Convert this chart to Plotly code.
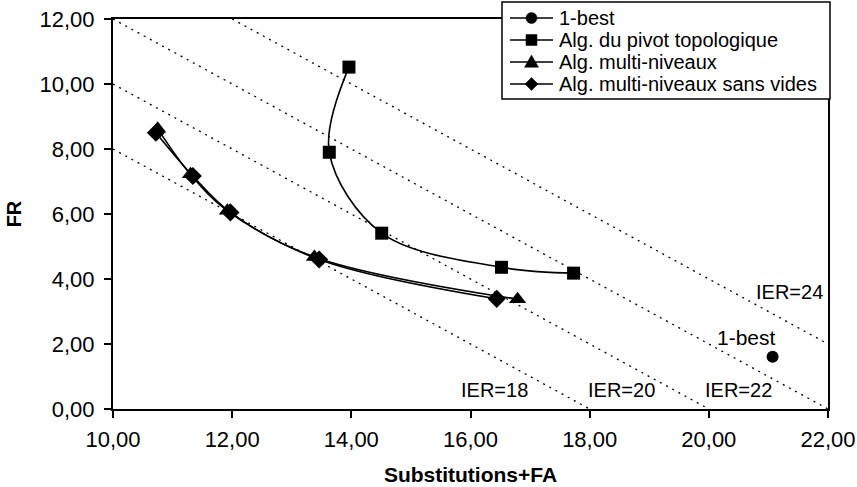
import plotly.graph_objects as go

# ---- data ----
best_x = [21.07]
best_y = [1.61]

pivot_x = [13.96, 13.63, 14.51, 16.52, 17.73]
pivot_y = [10.52, 7.90, 5.41, 4.36, 4.18]

multi_x = [10.75, 11.30, 11.92, 13.38, 16.79]
multi_y = [8.62, 7.22, 6.10, 4.68, 3.38]

multi_sv_x = [10.72, 11.34, 11.97, 13.46, 16.44]
multi_sv_y = [8.50, 7.17, 6.05, 4.60, 3.39]

series_names = ["1-best", "Alg. du pivot topologique", "Alg. multi-niveaux",
                "Alg. multi-niveaux sans vides"]

ier_levels = [18, 20, 22, 24]
ier_label_pos = [(16.41, 0.58), (18.54, 0.58), (20.50, 0.58), (21.36, 3.61)]
best_label_pos = (20.64, 2.20)

x_range = [10, 22]
y_range = [0, 12]

FONT = "Liberation Sans"
W, H = 857, 487
ML, MR, MT, MB = 113, 29, 19, 78
PW, PH = W - ML - MR, H - MT - MB

fig = go.Figure()

# iso-IER dotted lines
for lvl in ier_levels:
    x0 = max(x_range[0], lvl - y_range[1])
    x1 = min(x_range[1], lvl - y_range[0])
    fig.add_trace(go.Scatter(x=[x0, x1], y=[lvl - x0, lvl - x1], mode="lines", showlegend=False,
                             line=dict(color="black", width=1.3, dash="2px,5px"),
                             hoverinfo="skip"))

symbols = ["circle", "square", "triangle-up", "diamond"]
sizes = [12, 13, 15, 14]
for name, xs, ys, sym, sz in zip(series_names, [best_x, pivot_x, multi_x, multi_sv_x],
                                 [best_y, pivot_y, multi_y, multi_sv_y], symbols, sizes):
    fig.add_trace(go.Scatter(
        x=xs, y=ys, name=name, mode="lines+markers", showlegend=False,
        line=dict(color="black", width=1.6, shape="spline", smoothing=1.0),
        marker=dict(symbol=sym, size=sz, color="black"),
    ))

for lvl, (lx, ly) in zip(ier_levels, ier_label_pos):
    fig.add_annotation(x=lx, y=ly, text=f"IER={lvl}", showarrow=False,
                       font=dict(family=FONT, size=20, color="black"))
fig.add_annotation(x=best_label_pos[0], y=best_label_pos[1], text="1-best", showarrow=False,
                   font=dict(family=FONT, size=21, color="black"))

# ---- hand-drawn legend (tight Excel-like rows) ----
def px(xp):
    return (xp - ML) / PW

def py(yp):
    return (H - MB - yp) / PH

box = dict(x0=502, x1=830, y0=2, y1=99)
fig.add_shape(type="rect", xref="paper", yref="paper", layer="above",
              x0=px(box["x0"]), x1=px(box["x1"]), y0=py(box["y1"]), y1=py(box["y0"]),
              fillcolor="white", line=dict(color="black", width=1.5))
row_y = [18, 40, 62, 84]
sx0, sx1, sxm, tx = 510, 553, 531.5, 558
for name, sym, ry in zip(series_names, symbols, row_y):
    fig.add_shape(type="line", xref="paper", yref="paper", layer="above",
                  x0=px(sx0), x1=px(sx1), y0=py(ry), y1=py(ry),
                  line=dict(color="black", width=1.6))
    mk = dict(xref="paper", yref="paper", layer="above", fillcolor="black",
              line=dict(color="black", width=0.5))
    if sym == "circle":
        r = 5.5
        fig.add_shape(type="circle", x0=px(sxm - r), x1=px(sxm + r), y0=py(ry + r), y1=py(ry - r), **mk)
    elif sym == "square":
        r = 5.5
        fig.add_shape(type="rect", x0=px(sxm - r), x1=px(sxm + r), y0=py(ry + r), y1=py(ry - r), **mk)
    elif sym == "triangle-up":
        r = 7
        path = (f"M {px(sxm)},{py(ry - r)} L {px(sxm + r)},{py(ry + r * 0.75)} "
                f"L {px(sxm - r)},{py(ry + r * 0.75)} Z")
        fig.add_shape(type="path", path=path, **mk)
    else:
        r = 6.5
        path = (f"M {px(sxm)},{py(ry - r)} L {px(sxm + r)},{py(ry)} "
                f"L {px(sxm)},{py(ry + r)} L {px(sxm - r)},{py(ry)} Z")
        fig.add_shape(type="path", path=path, **mk)
    fig.add_annotation(xref="paper", yref="paper", x=px(tx), y=py(ry), text=name,
                       xanchor="left", yanchor="middle", showarrow=False, borderpad=0,
                       font=dict(family=FONT, size=20, color="black"))

axis_common = dict(
    showgrid=False, zeroline=False, showline=True, linecolor="black", linewidth=2,
    mirror=True, ticks="outside", ticklen=7, tickwidth=1.5, tickcolor="black",
    tickformat=".2f", tickfont=dict(family=FONT, size=22, color="black"),
    automargin=False,
)

fig.update_layout(
    width=W, height=H,
    margin=dict(l=ML, r=MR, t=MT, b=MB, autoexpand=False),
    paper_bgcolor="white", plot_bgcolor="white",
    separators=", ",
    font=dict(family=FONT, color="black"),
    showlegend=False,
    xaxis=dict(range=x_range, dtick=2, **axis_common, ticklabelstandoff=3,
               title=dict(text="<b>Substitutions+FA</b>", font=dict(family=FONT, size=21), standoff=16)),
    yaxis=dict(range=y_range, dtick=2, **axis_common, ticklabelstandoff=5,
               title=dict(text="<b>FR</b>", font=dict(family=FONT, size=20), standoff=13)),
)

fig.write_html("out.html")
